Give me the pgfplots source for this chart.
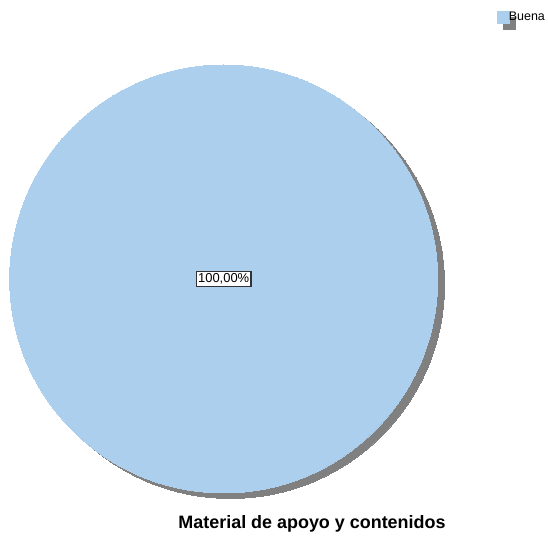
\documentclass[border=0pt]{standalone}
\usepackage{pgfplots}
\pgfplotsset{compat=1.18}
\usepackage{fontspec}
\setmainfont{Liberation Sans}
\definecolor{pieblue}{RGB}{173,207,238}
\definecolor{shadowgray}{RGB}{128,128,128}
\begin{document}
\begin{tikzpicture}
\begin{axis}[
  name=main,
  scale only axis, width=548bp, height=537bp,
  xmin=0, xmax=548, ymin=-537, ymax=0,
  hide axis, clip=false,
  legend style={at={(axis cs:496.5,-11.5)}, anchor=north west, draw=none, fill=none,
    font=\fontsize{12.5}{14}\selectfont, inner sep=0pt, outer sep=0pt,
    nodes={inner sep=0pt, outer sep=0pt},
    legend cell align=left,
    /tikz/every even column/.style={column sep=1.5bp}},
  legend image code/.code={%
    \fill[shadowgray, overlay] (6bp,-0.5bp) rectangle ++(12bp,-12bp);
    \fill[pieblue] (0bp,5.5bp) rectangle ++(12bp,-12bp);
  },
]
% shadow of the single slice (100%)
\addplot[forget plot, only marks, mark=*, mark size=214bp, draw=shadowgray, fill=shadowgray,
  mark options={fill=shadowgray, draw=shadowgray, line width=0pt}] coordinates {(230.5,-284.5)};
% the single slice: Buena = 100%
\addplot[only marks, mark=*, mark size=214bp, draw=pieblue, fill=pieblue,
  mark options={fill=pieblue, draw=pieblue, line width=0pt},
  nodes near coords={100,00\%},
  every node near coord/.style={anchor=center, fill=white, draw=black!80, line width=1.2bp,
    inner sep=1.8bp, font=\fontsize{13}{15}\selectfont, text=black}]
  coordinates {(223.7,-279)};
\addlegendentry{Buena}
\node[font=\bfseries\fontsize{18}{21}\selectfont, anchor=center] at (axis cs:312,-524) {Material de apoyo y contenidos};
\end{axis}
\pgfresetboundingbox
\path[use as bounding box] (main.south west) rectangle (main.north east);
\end{tikzpicture}
\end{document}
